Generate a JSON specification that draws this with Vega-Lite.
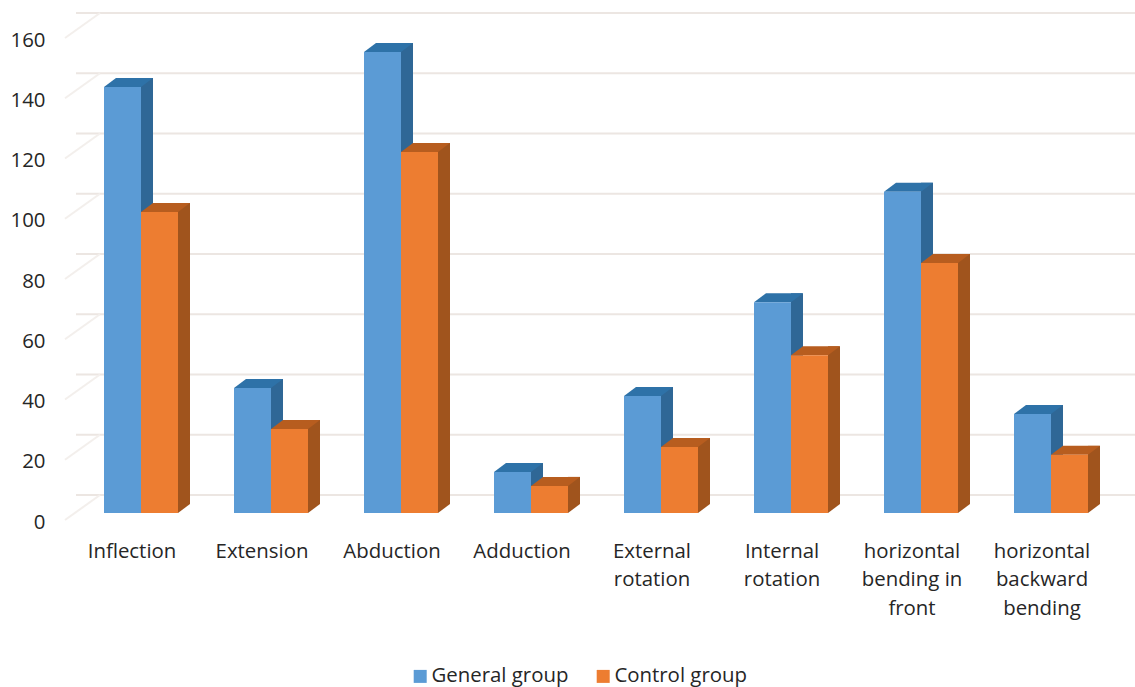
{
  "$schema": "https://vega.github.io/schema/vega-lite/v6.json",
  "width": 1040,
  "height": 482,
  "autosize": "none",
  "padding": {"left": 76, "top": 31, "right": 19, "bottom": 174},
  "background": "white",
  "config": {
    "view": {"stroke": null},
    "axis": {"labelFont": "Open Sans", "labelColor": "#262626", "labelFontSize": 20.4, "domain": false, "ticks": false, "grid": false, "title": null}
  },
  "datasets": {
    "measures": [
      {"category": "Inflection", "group": "General group", "value": 141.4},
      {"category": "Inflection", "group": "Control group", "value": 99.9},
      {"category": "Extension", "group": "General group", "value": 41.5},
      {"category": "Extension", "group": "Control group", "value": 27.9},
      {"category": "Abduction", "group": "General group", "value": 153},
      {"category": "Abduction", "group": "Control group", "value": 119.8},
      {"category": "Adduction", "group": "General group", "value": 13.6},
      {"category": "Adduction", "group": "Control group", "value": 9},
      {"category": "External rotation", "group": "General group", "value": 38.8},
      {"category": "External rotation", "group": "Control group", "value": 21.9},
      {"category": "Internal rotation", "group": "General group", "value": 70},
      {"category": "Internal rotation", "group": "Control group", "value": 52.4},
      {"category": "horizontal bending in front", "group": "General group", "value": 106.6},
      {"category": "horizontal bending in front", "group": "Control group", "value": 83},
      {"category": "horizontal backward bending", "group": "General group", "value": 32.9},
      {"category": "horizontal backward bending", "group": "Control group", "value": 19.3}
    ],
    "gridLevels": [
      {"category": "Inflection", "value": 0},
      {"category": "Inflection", "value": 20},
      {"category": "Inflection", "value": 40},
      {"category": "Inflection", "value": 60},
      {"category": "Inflection", "value": 80},
      {"category": "Inflection", "value": 100},
      {"category": "Inflection", "value": 120},
      {"category": "Inflection", "value": 140},
      {"category": "Inflection", "value": 160}
    ]
  },
  "data": {"name": "measures"},
  "encoding": {
    "y": {
      "field": "value",
      "type": "quantitative",
      "scale": {"domain": [0, 160], "nice": false},
      "axis": {"values": [0, 20, 40, 60, 80, 100, 120, 140, 160], "labelOffset": 9, "labelPadding": 31, "title": null}
    }
  },
  "layer": [
    {
      "description": "Back wall gridlines",
      "data": {"name": "gridLevels"},
      "mark": {"type": "rule", "color": "#ece6e2", "strokeWidth": 2, "xOffset": 24, "yOffset": -18},
      "encoding": {}
    },
    {
      "description": "Side wall gridlines running towards the front axis",
      "data": {"name": "gridLevels"},
      "mark": {"type": "point", "shape": "M-76,7L-41,-18", "size": 4, "filled": false, "stroke": "#f3efec", "strokeWidth": 2, "opacity": 1},
      "encoding": {"x": {"field": "category", "type": "nominal"}}
    },
    {
      "description": "General group: side face",
      "transform": [{"filter": "datum.group === 'General group'"}],
      "mark": {"type": "rule", "color": "#2f6796", "strokeWidth": 12, "xOffset": 6, "yOffset": -9, "y2Offset": -9},
      "encoding": {"x": {"field": "category", "type": "nominal"}, "y2": {"datum": 0}}
    },
    {
      "description": "General group: top face",
      "transform": [{"filter": "datum.group === 'General group'"}],
      "mark": {"type": "point", "shape": "M-37,0L0,0L12,-9L-25,-9Z", "size": 4, "filled": true, "fill": "#2e72a8", "stroke": null, "opacity": 1},
      "encoding": {"x": {"field": "category", "type": "nominal"}}
    },
    {
      "description": "General group: front face",
      "transform": [{"filter": "datum.group === 'General group'"}],
      "mark": {"type": "bar", "size": 37, "xOffset": -18.5},
      "encoding": {
        "x": {"field": "category", "type": "nominal"},
        "color": {"field": "group", "type": "nominal"}
      }
    },
    {
      "description": "Control group: side face",
      "transform": [{"filter": "datum.group === 'Control group'"}],
      "mark": {"type": "rule", "color": "#a0541d", "strokeWidth": 12, "xOffset": 43, "yOffset": -9, "y2Offset": -9},
      "encoding": {"x": {"field": "category", "type": "nominal"}, "y2": {"datum": 0}}
    },
    {
      "description": "Control group: foot of the side face",
      "transform": [{"filter": "datum.group === 'Control group'"}],
      "mark": {"type": "point", "shape": "M37,0L37,-9L49,-9Z", "size": 4, "filled": true, "fill": "#a0541d", "stroke": null, "opacity": 1},
      "encoding": {"x": {"field": "category", "type": "nominal"}, "y": {"datum": 0}}
    },
    {
      "description": "Control group: top face",
      "transform": [{"filter": "datum.group === 'Control group'"}],
      "mark": {"type": "point", "shape": "M0,0L37,0L49,-9L12,-9Z", "size": 4, "filled": true, "fill": "#b75d1f", "stroke": null, "opacity": 1},
      "encoding": {"x": {"field": "category", "type": "nominal"}}
    },
    {
      "description": "Control group: front face",
      "transform": [{"filter": "datum.group === 'Control group'"}],
      "mark": {"type": "bar", "size": 37, "xOffset": 18.5},
      "encoding": {
        "x": {
          "field": "category",
          "type": "nominal",
          "sort": null,
          "scale": {
            "domain": ["Inflection", "Extension", "Abduction", "Adduction", "External rotation", "Internal rotation", "horizontal bending in front", "horizontal backward bending"],
            "paddingInner": 0,
            "paddingOuter": 0
          },
          "axis": {
            "title": null,
            "labelAngle": 0,
            "labelAlign": "center",
            "labelBaseline": "top",
            "labelOffset": -9,
            "labelPadding": 28,
            "labelLimit": 200,
            "labelLineHeight": 28.5,
            "labelExpr": "datum.label === 'External rotation' ? ['External', 'rotation'] : datum.label === 'Internal rotation' ? ['Internal', 'rotation'] : datum.label === 'horizontal bending in front' ? ['horizontal', 'bending in', 'front'] : datum.label === 'horizontal backward bending' ? ['horizontal', 'backward', 'bending'] : datum.label"
          }
        },
        "color": {
          "field": "group",
          "type": "nominal",
          "scale": {"domain": ["General group", "Control group"], "range": ["#5b9bd5", "#ed7d31"]},
          "legend": {
            "title": null,
            "orient": "none",
            "legendX": 334,
            "legendY": 635,
            "direction": "horizontal",
            "columns": 2,
            "symbolType": "square",
            "symbolSize": 169,
            "symbolStrokeWidth": 0,
            "labelFont": "Open Sans",
            "labelFontSize": 20.4,
            "labelColor": "#262626",
            "labelOffset": 1,
            "columnPadding": 24,
            "padding": 0
          }
        }
      }
    }
  ]
}
